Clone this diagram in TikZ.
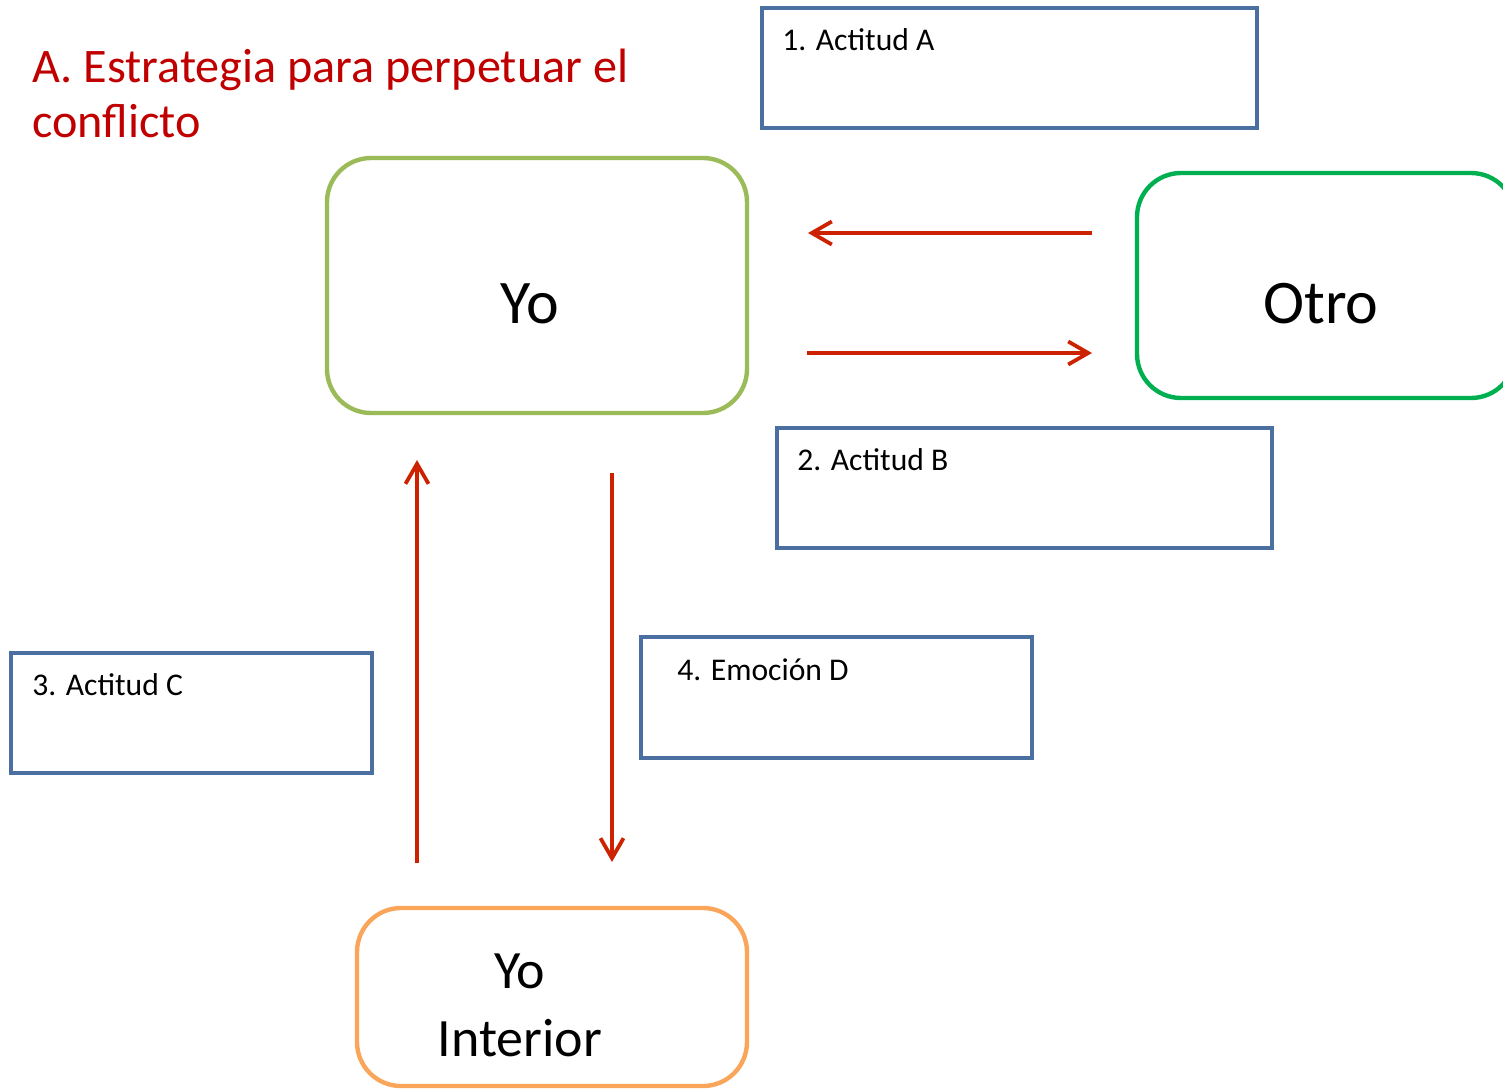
\documentclass[tikz,border=0pt]{standalone}
\usepackage{fontspec}
\setmainfont{Carlito}
\usetikzlibrary{arrows.meta}
\definecolor{boxblue}{HTML}{4A6FA0}
\definecolor{yogreen}{HTML}{9BBB59}
\definecolor{otrogreen}{HTML}{00B050}
\definecolor{inorange}{HTML}{F9A65A}
\definecolor{arrred}{HTML}{CC2200}
\definecolor{titlered}{HTML}{C00000}
\tikzset{
  actbox/.style={draw=boxblue,line width=2pt,rectangle,minimum height=60pt,inner sep=0pt},
  acttext/.style={anchor=base west,inner sep=0pt,font=\fontsize{15.8}{19}\selectfont},
  selfbox/.style={rectangle,rounded corners=22pt,line width=2.2pt,inner sep=0pt},
  flow/.style={draw=arrred,line width=1.9pt,-{Straight Barb[length=10pt,width=11.5pt]}}
}
\begin{document}
\begin{tikzpicture}[x=0.5pt,y=-0.5pt]
      \useasboundingbox (0,0) rectangle (1503,1088);

      % title
      \node[anchor=base west,inner sep=0pt,align=left,text=titlered,
        font=\fontsize{24.1}{27.5}\selectfont] (title) at (32,137)
        {A. Estrategia para perpetuar el\\conflicto};

      % the three selves
      \node[selfbox,draw=yogreen,minimum width=210pt,minimum height=127.5pt] (yo) at (537,285.5) {};
      \node[selfbox,draw=otrogreen,minimum width=189pt,minimum height=112.5pt] (otro) at (1326,285.5) {};
      \node[selfbox,draw=inorange,minimum width=195pt,minimum height=89pt] (yoin) at (552,997) {};
      \node[font=\fontsize{31}{37}\selectfont] (yotext) at (530,304) {Yo};
      \node[font=\fontsize{31}{37}\selectfont] (otrotext) at (1321,304) {Otro};
      \node[align=center,font=\fontsize{27}{34}\selectfont] (yointext) at (520,1005) {Yo\\Interior};

      % attitude boxes
      \node[actbox,minimum width=247.5pt] (a) at (1009.5,68) {};
      \node[actbox,minimum width=247.5pt] (b) at (1024.5,488) {};
      \node[actbox,minimum width=180.5pt] (c) at (191.5,713) {};
      \node[actbox,minimum width=195.5pt,minimum height=60.5pt] (d) at (836.5,697.5) {};
      \node[acttext] (la) at (782,50) {1. Actitud A};
      \node[acttext] (lb) at (797,470) {2. Actitud B};
      \node[acttext] (lc) at (32,695) {3. Actitud C};
      \node[acttext] (ld) at (677,680) {4. Emoción D};

      % arrows
      \coordinate (ls) at (1092,233);
      \coordinate (le) at (808,233);
      \coordinate (rs) at (807,353);
      \coordinate (re) at (1092,353);
      \coordinate (us) at (417,863);
      \coordinate (ue) at (417,460);
      \coordinate (ds) at (612,473);
      \coordinate (de) at (612,862);

      \draw[flow] (ls) -- (le);
      \draw[flow] (rs) -- (re);
      \draw[flow] (us) -- (ue);
      \draw[flow] (ds) -- (de);
    \end{tikzpicture}
\end{document}
